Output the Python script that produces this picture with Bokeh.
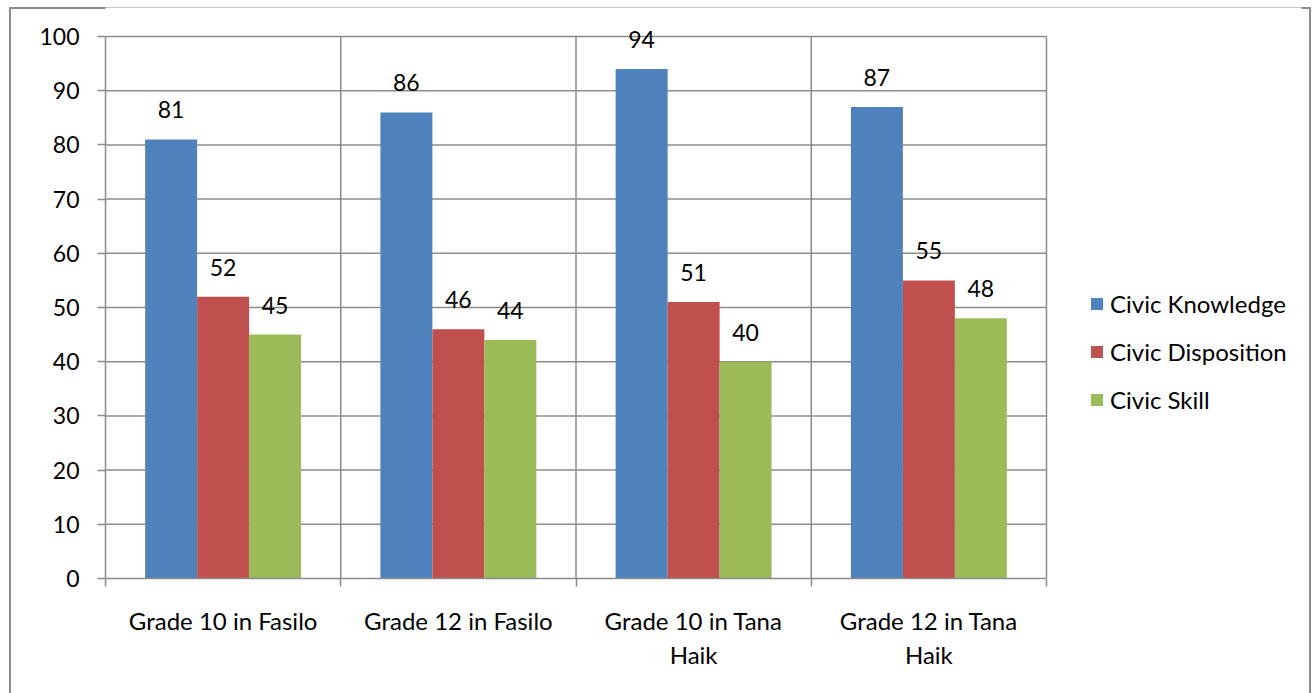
from bokeh.plotting import figure
from bokeh.models import (ColumnDataSource, FixedTicker, LabelSet, Legend, LegendItem, Range1d)
from bokeh.core.properties import value
from bokeh.embed import file_html
from bokeh.resources import INLINE

categories = ["Grade 10 in Fasilo", "Grade 12 in Fasilo", "Grade 10 in Tana\nHaik", "Grade 12 in Tana\nHaik"]
series_names = ["Civic Knowledge", "Civic Disposition", "Civic Skill"]
knowledge = [81, 86, 94, 87]
disposition = [52, 46, 51, 55]
skill = [45, 44, 40, 48]
colors = ["#4F81BD", "#C0504D", "#9BBB59"]
y_ticks = [0, 10, 20, 30, 40, 50, 60, 70, 80, 90, 100]

FONT = "Lato"
GRID = "#8C8C8C"

n_cat = len(categories)
y_max = y_ticks[-1]
boundaries = list(range(n_cat + 1))
centers = [i + 0.5 for i in range(n_cat)]

# canvas placed at (9, 7) in the page; chart border drawn with an inset shadow on 3 sides
# plot area: categories 0..4 over 941 px, values 0..100 over 542 px; the frame extends
# further right (legend) and up (value labels) so nothing is clipped
x_end = n_cat + 255 / 235.25
y_end = y_max + 29 / 5.42
p = figure(width=1302, height=686, output_backend="svg", toolbar_location=None,
           x_range=Range1d(0, x_end), y_range=Range1d(0, y_end),
           min_border_left=96, min_border_right=10, min_border_top=0, min_border_bottom=115,
           margin=(7, 3, 0, 9))
p.styles = {"box-shadow": "inset 2px 2px 0 0 #8C8C8C, inset -2px 0 0 0 #8C8C8C"}
p.background_fill_color = "white"
p.border_fill_alpha = 0
p.outline_line_color = None
p.xgrid.visible = False
p.ygrid.visible = False

# gridlines limited to the plot area (0..4, 0..100)
p.segment(x0=0, x1=n_cat, y0=y_ticks[1:], y1=y_ticks[1:], line_color=GRID, line_width=1.5)
p.segment(x0=boundaries[1:], x1=boundaries[1:], y0=0, y1=y_max, line_color=GRID, line_width=1.5)

bw = 0.221
offsets = [-bw, 0.0, bw]
items = []
for name, vals, col, off in zip(series_names, [knowledge, disposition, skill], colors, offsets):
    src = ColumnDataSource(dict(x=[c + off for c in centers], top=vals,
                                lab=[str(v) for v in vals]))
    r = p.vbar(x="x", top="top", width=bw, bottom=0, source=src,
               fill_color=col, line_color=None)
    items.append(LegendItem(label=name, renderers=[r]))
    p.add_layout(LabelSet(x="x", y="top", text="lab", source=src, text_align="center",
                          text_baseline="alphabetic", y_offset=21,
                          text_font=value(FONT), text_font_size="23px", text_color="black"))

# axes
p.xaxis.ticker = FixedTicker(ticks=centers, minor_ticks=boundaries)
p.xaxis.bounds = (0, n_cat)
p.xaxis.major_label_overrides = {c: lab for c, lab in zip(centers, categories)}
p.xaxis.major_tick_line_color = None
p.xaxis.minor_tick_line_color = GRID
p.xaxis.minor_tick_line_width = 1.5
p.xaxis.minor_tick_out = 8
p.xaxis.minor_tick_in = 0
p.xaxis.axis_line_color = GRID
p.xaxis.axis_line_width = 1.5
p.xaxis.major_label_standoff = 19
p.xaxis.major_label_text_font = FONT
p.xaxis.major_label_text_font_size = "24px"
p.xaxis.major_label_text_line_height = 1.2
p.xaxis.major_label_text_color = "black"

p.yaxis.ticker = FixedTicker(ticks=y_ticks, minor_ticks=[])
p.yaxis.bounds = (0, y_max)
p.yaxis.major_tick_line_color = GRID
p.yaxis.major_tick_line_width = 1.5
p.yaxis.major_tick_out = 8
p.yaxis.major_tick_in = 0
p.yaxis.axis_line_color = GRID
p.yaxis.axis_line_width = 1.5
p.yaxis.major_label_standoff = 18
p.yaxis.major_label_text_font = FONT
p.yaxis.major_label_text_font_size = "23px"
p.yaxis.major_label_text_color = "black"

legend = Legend(items=items, location=(984, 164), orientation="vertical",
                label_text_font=FONT, label_text_font_size="24px", label_text_color="black",
                glyph_width=15, glyph_height=15, label_height=24, spacing=19,
                label_standoff=6, padding=0, margin=0,
                border_line_color=None, background_fill_alpha=0)
p.add_layout(legend, "center")

open("out.html", "w").write(file_html(p, INLINE))
